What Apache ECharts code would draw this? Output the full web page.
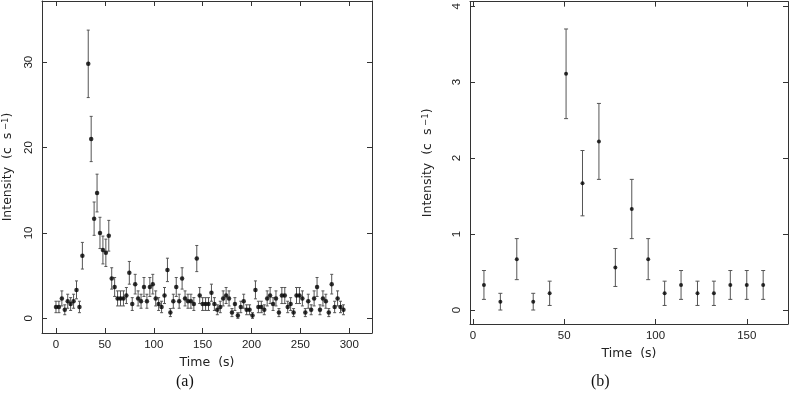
<!DOCTYPE html>
<html>
<head>
<meta charset="utf-8">
<script src="https://cdn.jsdelivr.net/npm/echarts@6/dist/echarts.min.js"></script>
<style>
  html, body { margin: 0; padding: 0; background: #fff; }
  #main { width: 792px; height: 396px; }
</style>
</head>
<body>
<div id="main"></div>
<script>
// panel (a): 3 s bins
const timeA = [0, 3, 6, 9, 12, 15, 18, 21, 24, 27, 33, 36, 39, 42, 45, 48, 51, 54, 57, 60,
  63, 66, 69, 72, 75, 78, 81, 84, 87, 90, 93, 96, 99, 102, 105, 108, 111, 114, 117, 120,
  123, 126, 129, 132, 135, 138, 141, 144, 147, 150, 153, 156, 159, 162, 165, 168, 171, 174, 177, 180,
  183, 186, 189, 192, 195, 198, 201, 204, 207, 210, 213, 216, 219, 222, 225, 228, 231, 234, 237, 240,
  243, 246, 249, 252, 255, 258, 261, 264, 267, 270, 273, 276, 279, 282, 285, 288, 291, 294]
const rateA = [1.33, 1.33, 2.33, 1.0, 2.0, 1.67, 2.0, 3.33, 1.33, 7.33, 29.8, 21.0, 11.67, 14.67, 10.0, 8.0, 7.67, 9.67, 4.67, 3.67,
  2.33, 2.33, 2.33, 2.67, 5.33, 1.67, 4.0, 2.33, 2.0, 3.67, 2.0, 3.67, 4.0, 2.33, 1.67, 1.33, 2.67, 5.67, 0.67, 2.0,
  3.67, 2.0, 4.67, 2.33, 2.0, 2.0, 1.67, 7.0, 2.67, 1.67, 1.67, 1.67, 3.0, 1.67, 1.0, 1.33, 2.33, 2.67, 2.33, 0.67,
  1.67, 0.33, 1.33, 2.0, 1.0, 1.0, 0.33, 3.33, 1.33, 1.33, 1.0, 2.33, 2.67, 1.67, 2.33, 0.67, 2.67, 2.67, 1.33, 1.67,
  0.67, 2.67, 2.67, 2.33, 0.67, 2.0, 1.0, 2.33, 3.67, 1.0, 2.33, 2.0, 0.67, 4.0, 1.33, 2.33, 1.33, 1.0]
const errA = [0.67, 0.67, 0.88, 0.58, 0.82, 0.75, 0.82, 1.05, 0.67, 1.56, 3.95, 2.65, 1.95, 2.21, 1.83, 1.63, 1.6, 1.8, 1.25, 1.11,
  0.88, 0.88, 0.88, 0.94, 1.33, 0.75, 1.15, 0.88, 0.82, 1.11, 0.82, 1.11, 1.15, 0.88, 0.75, 0.67, 0.94, 1.37, 0.47, 0.82,
  1.11, 0.82, 1.25, 0.88, 0.82, 0.82, 0.75, 1.53, 0.94, 0.75, 0.75, 0.75, 1.0, 0.75, 0.58, 0.67, 0.88, 0.94, 0.88, 0.47,
  0.75, 0.33, 0.67, 0.82, 0.58, 0.58, 0.33, 1.05, 0.67, 0.67, 0.58, 0.88, 0.94, 0.75, 0.88, 0.47, 0.94, 0.94, 0.67, 0.75,
  0.47, 0.94, 0.94, 0.88, 0.47, 0.82, 0.58, 0.88, 1.11, 0.58, 0.88, 0.82, 0.47, 1.15, 0.67, 0.88, 0.67, 0.58]
const xTicksA = [0, 50, 100, 150, 200, 250, 300]
const yTicksA = [0, 10, 20, 30]

// panel (b): 9 s bins
const timeB = [6, 15, 24, 33, 42, 51, 60, 69, 78, 87, 96, 105, 114, 123, 132, 141, 150, 159]
const rateB = [0.33, 0.11, 0.67, 0.11, 0.22, 3.11, 1.67, 2.22, 0.56, 1.33, 0.67, 0.22, 0.33, 0.22, 0.22, 0.33, 0.33, 0.33]
const errB = [0.19, 0.11, 0.27, 0.11, 0.16, 0.59, 0.43, 0.5, 0.25, 0.39, 0.27, 0.16, 0.19, 0.16, 0.16, 0.19, 0.19, 0.19]
const xTicksB = [0, 50, 100, 150]
const yTicksB = [0, 1, 2, 3, 4]

const chart = echarts.init(document.getElementById('main'))

const font = 'Liberation Sans'
const nameFont = 'DejaVu Sans'
const lineCol = '#333'

function errBars(capHalf) {
  return function (params, api) {
    const x = api.value(0)
    const y = api.value(1)
    const e = api.value(2)
    const hi = api.coord([x, y + e])
    const lo = api.coord([x, y - e])
    const style = { stroke: '#555', lineWidth: 1 }
    return {
      type: 'group',
      children: [
        { type: 'line', shape: { x1: hi[0], y1: hi[1], x2: lo[0], y2: lo[1] }, style: style },
        { type: 'line', shape: { x1: hi[0] - capHalf, y1: hi[1], x2: hi[0] + capHalf, y2: hi[1] }, style: style },
        { type: 'line', shape: { x1: lo[0] - capHalf, y1: lo[1], x2: lo[0] + capHalf, y2: lo[1] }, style: style }
      ]
    }
  }
}

function xAx(grid, min, max, ticks, top) {
  return {
    type: 'value',
    gridIndex: grid,
    position: top ? 'top' : 'bottom',
    min: min,
    max: max,
    name: top ? '' : 'Time  (s)',
    nameLocation: 'middle',
    nameGap: 20,
    nameTextStyle: { fontFamily: nameFont, fontSize: 12.5, color: '#222' },
    axisLine: { show: true, onZero: false, lineStyle: { color: lineCol, width: 1 } },
    axisTick: { show: true, inside: true, length: 5, customValues: ticks, lineStyle: { color: lineCol } },
    axisLabel: { show: !top, customValues: ticks, margin: 6, fontFamily: font, fontSize: 11.5, color: '#222' },
    splitLine: { show: false }
  }
}

function yAx(grid, min, max, ticks, right, gap) {
  return {
    type: 'value',
    gridIndex: grid,
    position: right ? 'right' : 'left',
    min: min,
    max: max,
    name: right ? '' : 'Intensity  (c  s{sup| \u22121})',
    nameLocation: 'middle',
    nameRotate: 90,
    nameGap: gap,
    nameTextStyle: {
      fontFamily: nameFont, fontSize: 12.5, color: '#222',
      rich: { sup: { fontFamily: nameFont, fontSize: 8.5, color: '#222', verticalAlign: 'top', lineHeight: 8 } }
    },
    axisLine: { show: true, onZero: false, lineStyle: { color: lineCol, width: 1 } },
    axisTick: { show: true, inside: true, length: 5, customValues: ticks, lineStyle: { color: lineCol } },
    axisLabel: { show: !right, customValues: ticks, rotate: 90, margin: 7, fontFamily: font, fontSize: 11.5, color: '#222' },
    splitLine: { show: false }
  }
}

const option = {
  animation: false,
  backgroundColor: '#fff',
  grid: [
    { left: 42, top: 1, width: 330, height: 332 },
    { left: 470, top: 1, width: 318, height: 323 }
  ],
  xAxis: [
    xAx(0, -14.3, 323.2, xTicksA, false),
    xAx(0, -14.3, 323.2, xTicksA, true),
    xAx(1, -1.64, 172.6, xTicksB, false),
    xAx(1, -1.64, 172.6, xTicksB, true)
  ],
  yAxis: [
    yAx(0, -1.72, 37.16, yTicksA, false, 28),
    yAx(0, -1.72, 37.16, yTicksA, true, 0),
    yAx(1, -0.184, 4.06, yTicksB, false, 36),
    yAx(1, -0.184, 4.06, yTicksB, true, 0)
  ],
  graphic: [
    { type: 'text', left: 176, top: 374, style: { text: '(a)', fontFamily: 'Liberation Serif', fontSize: 16, fill: '#111' } },
    { type: 'text', left: 591, top: 374, style: { text: '(b)', fontFamily: 'Liberation Serif', fontSize: 16, fill: '#111' } }
  ],
  series: [
    {
      type: 'custom',
      xAxisIndex: 0,
      yAxisIndex: 0,
      renderItem: errBars(1.5),
      encode: { x: 0, y: 1 },
      data: timeA.map((t, i) => [t, rateA[i], errA[i]]),
      z: 1
    },
    {
      type: 'scatter',
      xAxisIndex: 0,
      yAxisIndex: 0,
      symbolSize: 4.5,
      itemStyle: { color: '#000' },
      data: timeA.map((t, i) => [t, rateA[i]]),
      z: 2
    },
    {
      type: 'custom',
      xAxisIndex: 2,
      yAxisIndex: 2,
      renderItem: errBars(2),
      encode: { x: 0, y: 1 },
      data: timeB.map((t, i) => [t, rateB[i], errB[i]]),
      z: 1
    },
    {
      type: 'scatter',
      xAxisIndex: 2,
      yAxisIndex: 2,
      symbolSize: 4,
      itemStyle: { color: '#000' },
      data: timeB.map((t, i) => [t, rateB[i]]),
      z: 2
    }
  ]
}

chart.setOption(option)
</script>
</body>
</html>
